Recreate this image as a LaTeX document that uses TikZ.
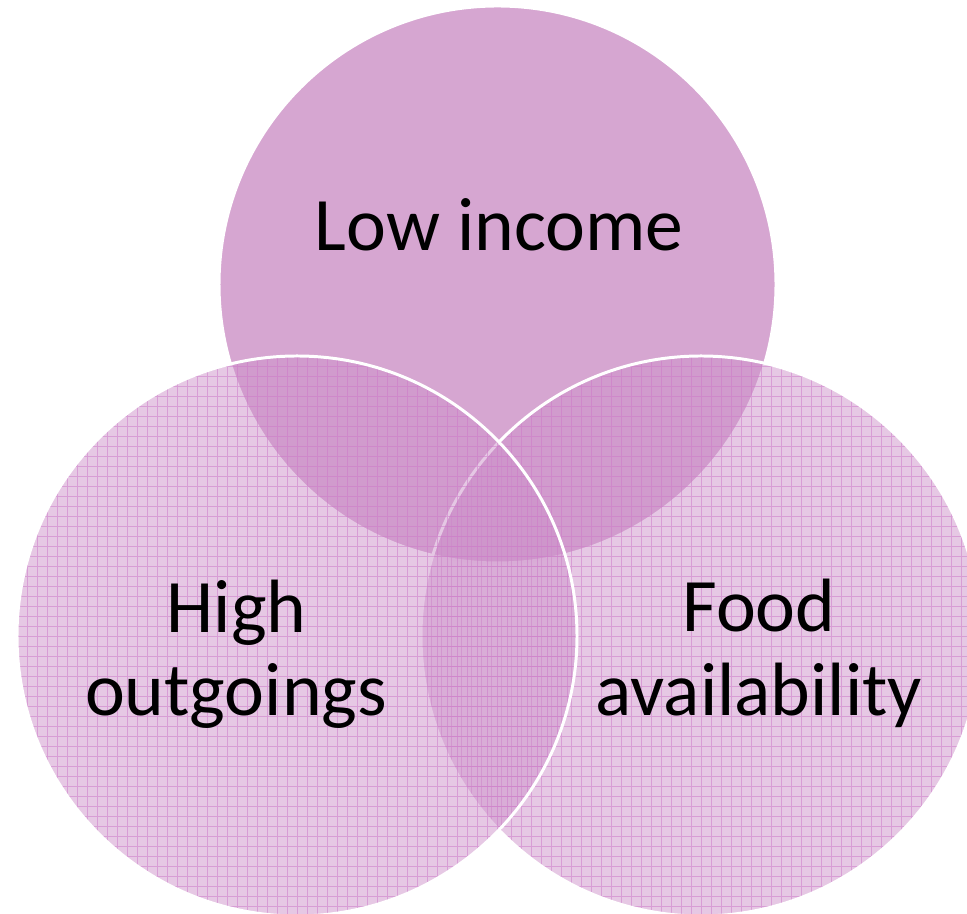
\documentclass[tikz,border=0pt]{standalone}
\usepackage{fontspec}
\setmainfont{Carlito}
\usepackage{tikz}

\definecolor{incomefill}{RGB}{214,166,209}
\definecolor{sidefill}{RGB}{205,146,202}
\definecolor{gridpink}{RGB}{206,122,201}

\tikzset{
  venn/.style={circle, draw=white, line width=1.7pt, inner sep=0pt, minimum size=#1},
  mesh/.style={fill=sidefill, fill opacity=0.5,
    path picture={\draw[gridpink, line width=0.45pt, opacity=0.55, step=0.2]
      (path picture bounding box.south west) grid (path picture bounding box.north east);}},
  vtext/.style={anchor=base, text=black, font=\fontsize{43}{47}\selectfont}
}

\begin{document}
\begin{tikzpicture}
\clip (0,0) rectangle (19.34,18.28);

\node (income) at (9.95,12.59) [venn=11.14cm, fill=incomefill] {};
\node (food) at (14.02,5.56) [venn=11.2cm, mesh] {};
\node (outgo) at (5.94,5.56) [venn=11.2cm, mesh] {};

\node (lowtxt) at (9.98,13.26) [vtext] {Low income};

\node (hightxt) at (4.73,5.62) [vtext] {High};
	\node (outtxt) at (4.72,3.96) [vtext] {outgoings};

\node (foodtxt) at (15.18,5.64) [vtext] {Food};
	\node (availtxt) at (15.18,3.96) [vtext] {availability};

\end{tikzpicture}
\end{document}
